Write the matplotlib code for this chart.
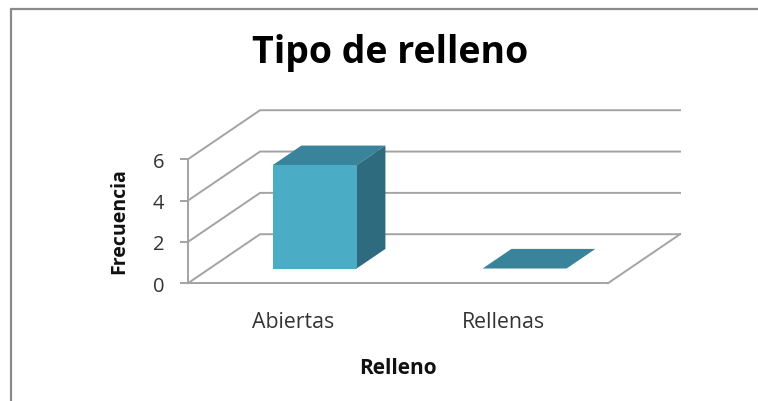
import matplotlib
matplotlib.use("Agg")
import matplotlib.pyplot as plt
from matplotlib.lines import Line2D
from matplotlib.patches import Polygon

categories = ["Abiertas", "Rellenas"]
values = [5, 0]
y_ticks = [0, 2, 4, 6]
title = "Tipo de relleno"
x_label = "Relleno"
y_label = "Frecuencia"

W, H = 758, 402
GRID = "#a3a3a3"
FRONT, TOP, SIDE = "#4bacc6", "#39849a", "#2f6b7e"
FONT = "Open Sans"

# oblique projection of the 3-D chart box: depth 0 = front, depth 1 = back wall
DEPTH_X = 0.343   # category units
DEPTH_Y = 2.37    # value units
BAR_WIDTH = 0.40
BAR_D0, BAR_D1 = 0.30, 0.70


def proj(x, v, d):
    return (x + d * DEPTH_X, v + d * DEPTH_Y)


fig = plt.figure(figsize=(W / 100, H / 100), dpi=100, facecolor="white")
ax = fig.add_axes([188 / W, 1 - 284.2 / H, 420 / W, 124 / H])
ax.set_xlim(-0.5, 1.5)
ax.set_ylim(0, 6)
ax.patch.set_visible(False)
for s in ("top", "right"):
    ax.spines[s].set_visible(False)
for s in ("left", "bottom"):
    ax.spines[s].set_color(GRID)
    ax.spines[s].set_linewidth(1.4)

ax.set_xticks(range(len(categories)), categories)
ax.set_yticks(y_ticks)
ax.tick_params(axis="x", length=0, pad=20, labelsize=15.3, labelcolor="#333333")
ax.tick_params(axis="y", length=6, width=1.4, color=GRID, pad=11, labelsize=14.5, labelcolor="#333333")
for lab in ax.get_xticklabels() + ax.get_yticklabels():
    lab.set_family(FONT)

x0, x1 = ax.get_xlim()
# wall grid lines and their side-wall diagonals
for v in y_ticks:
    pts = [proj(x0, v, 0), proj(x0, v, 1), proj(x1, v, 1)]
    ax.plot(*zip(*pts), color=GRID, lw=1.4, clip_on=False, zorder=1, solid_joinstyle="miter")
# floor right edge
ax.plot(*zip(proj(x1, 0, 0), proj(x1, 0, 1)), color=GRID, lw=1.4, clip_on=False, zorder=1)

# bars
for i, val in enumerate(values):
    l, r = i - BAR_WIDTH / 2, i + BAR_WIDTH / 2
    top = [proj(l, val, BAR_D0), proj(r, val, BAR_D0), proj(r, val, BAR_D1), proj(l, val, BAR_D1)]
    ax.add_patch(Polygon(top, closed=True, fc=TOP, ec="none", clip_on=False, zorder=3))
    if val > 0:
        side = [proj(r, 0, BAR_D0), proj(r, 0, BAR_D1), proj(r, val, BAR_D1), proj(r, val, BAR_D0)]
        front = [proj(l, 0, BAR_D0), proj(r, 0, BAR_D0), proj(r, val, BAR_D0), proj(l, val, BAR_D0)]
        ax.add_patch(Polygon(side, closed=True, fc=SIDE, ec="none", clip_on=False, zorder=3))
        ax.add_patch(Polygon(front, closed=True, fc=FRONT, ec="none", clip_on=False, zorder=4))

ax.set_xlabel(x_label, family=FONT, fontweight="bold", fontsize=15, labelpad=18, color="#111111")
fig.text(119 / W, 1 - 221 / H, y_label, rotation=90, ha="center", va="center",
         family=FONT, fontweight="bold", fontsize=14, color="#111111")
fig.text(390 / W, 1 - 53 / H, title, ha="center", va="center",
         family=FONT, fontweight="bold", fontsize=27, color="#000000")

# outer chart-area frame (top and left visible)
fig.add_artist(Line2D([11 / W, 11 / W, 1], [0, 1 - 9.5 / H, 1 - 9.5 / H],
                      transform=fig.transFigure, color="#8a8a8a", lw=1.6,
                      solid_joinstyle="miter"))

fig.savefig("out.png", dpi=100)
